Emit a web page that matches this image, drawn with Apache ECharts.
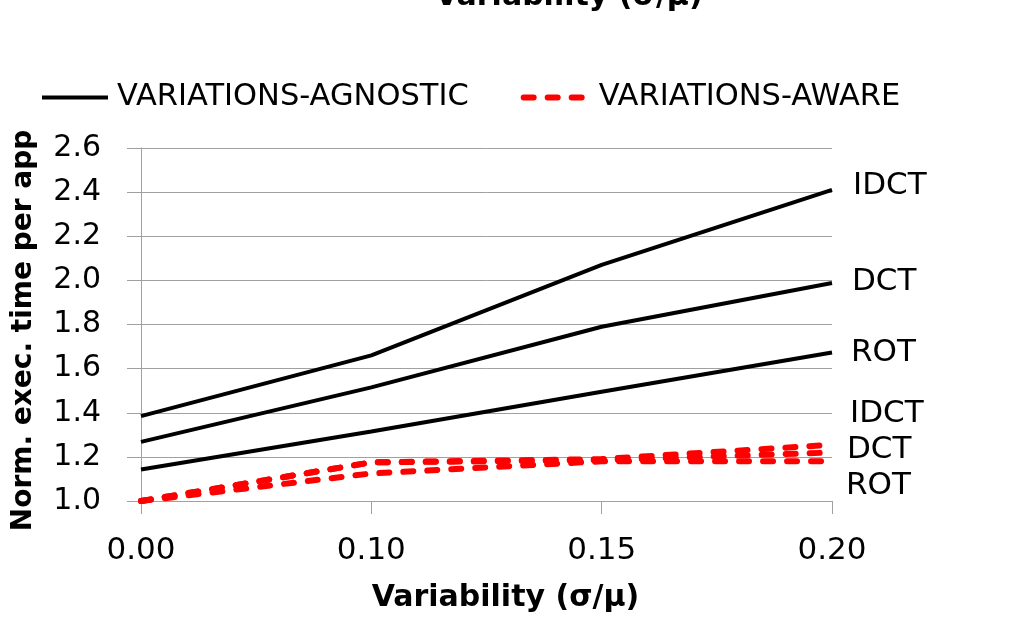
<!DOCTYPE html>
<html>
<head>
<meta charset="utf-8">
<script src="https://cdn.jsdelivr.net/npm/echarts@6/dist/echarts.min.js"></script>
<style>
html,body{margin:0;padding:0;background:#fff;}
#chart{width:1036px;height:631px;}
</style>
</head>
<body>
<div id="chart"></div>
<script>
// x categories (variability sigma/mu)
var categories = ['0.00', '0.10', '0.15', '0.20'];
// variations-agnostic
var agnIDCT = [1.385, 1.66, 2.07, 2.41];
var agnDCT = [1.268, 1.515, 1.79, 1.988];
var agnROT = [1.143, 1.315, 1.495, 1.673];
// variations-aware
var awIDCT = [1.0, 1.175, 1.19, 1.255];
var awDCT = [1.0, 1.175, 1.185, 1.22];
var awROT = [1.0, 1.125, 1.18, 1.18];

var FONT = 'DejaVu Sans';
var AGN = 'VARIATIONS-AGNOSTIC';
var AW = 'VARIATIONS-AWARE';

function solid(data, lbl, dx, dy){
	return {
		name: AGN,
		type: 'line',
		data: data,
		symbol: 'none',
		animation: false,
		lineStyle: {color: '#000', width: 4},
		itemStyle: {color: '#000'},
		endLabel: {
			show: true, formatter: lbl, distance: 0, offset: [dx, dy],
			color: '#000', fontFamily: FONT, fontSize: 31
		}
	};
}
function dashed(data, lbl, dx, dy){
	return {
		name: AW,
		type: 'line',
		data: data,
		symbol: 'none',
		animation: false,
		lineStyle: {color: '#ff0000', width: 6, type: [10, 14], cap: 'round'},
		itemStyle: {color: '#ff0000'},
		endLabel: {
			show: true, formatter: lbl, distance: 0, offset: [dx, dy],
			color: '#000', fontFamily: FONT, fontSize: 31
		}
	};
}

var option = {
	backgroundColor: '#fff',
	animation: false,
	title: {
		text: 'Variability (σ/μ)',
		left: 435, top: -18, padding: 0,
		textStyle: {fontFamily: FONT, fontSize: 30, fontWeight: 'bold', color: '#000'}
	},
	legend: {
		data: [AGN, AW],
		left: 40, top: 82, padding: 0,
		itemWidth: 66, itemHeight: 14, itemGap: 52,
		itemStyle: {opacity: 0},
		lineStyle: {width: 'inherit'},
		textStyle: {fontFamily: FONT, fontSize: 30.5, color: '#000', padding: [0, 0, 0, 4]}
	},
	grid: {left: 141, right: 204, top: 148, bottom: 130},
	xAxis: {
		type: 'category',
		data: categories,
		boundaryGap: false,
		name: 'Variability (σ/μ)',
		nameLocation: 'middle',
		nameGap: 82,
		nameTextStyle: {fontFamily: FONT, fontSize: 30, fontWeight: 'bold', color: '#000', padding: [0, 0, 0, 38]},
		axisLine: {lineStyle: {color: '#a0a0a0', width: 1}},
		axisTick: {show: true, alignWithLabel: true, length: 13, lineStyle: {color: '#a0a0a0'}},
		axisLabel: {fontFamily: FONT, fontSize: 31, color: '#000', margin: 34},
		splitLine: {show: false}
	},
	yAxis: {
		type: 'value',
		min: 1.0, max: 2.6, interval: 0.2,
		name: 'Norm. exec. time per app',
		nameLocation: 'middle',
		nameGap: 103,
		nameTextStyle: {fontFamily: FONT, fontSize: 28, fontWeight: 'bold', color: '#000', padding: [0, 12, 0, 0]},
		axisLine: {show: true, lineStyle: {color: '#a0a0a0', width: 1}},
		axisTick: {show: true, length: 14, lineStyle: {color: '#a0a0a0'}},
		axisLabel: {
			fontFamily: FONT, fontSize: 30, color: '#000', margin: 40,
			formatter: function(v){ return v.toFixed(1); }
		},
		splitLine: {lineStyle: {color: '#a0a0a0', width: 1}}
	},
	series: [
		solid(agnIDCT, 'IDCT', 21, -4),
		solid(agnDCT, 'DCT', 20, -1),
		solid(agnROT, 'ROT', 19, 0),
		dashed(awIDCT, 'IDCT', 18, -31),
		dashed(awDCT, 'DCT', 15, -3),
		dashed(awROT, 'ROT', 14, 25)
	]
};

var chart = echarts.init(document.getElementById('chart'));
chart.setOption(option);
</script>
</body>
</html>
